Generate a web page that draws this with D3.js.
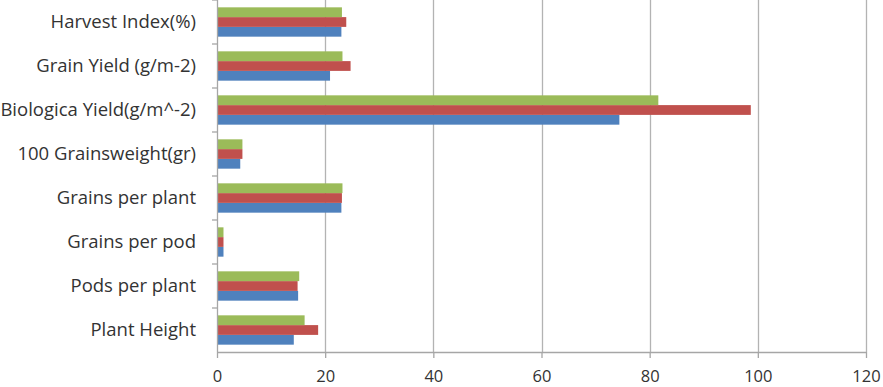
<!DOCTYPE html>
<html>
<head>
<meta charset="utf-8">
<script src="https://cdn.jsdelivr.net/npm/d3@7"></script>
<style>
  body { margin: 0; background: #fff; }
  text { font-family: "Open Sans", sans-serif; fill: #333; }
</style>
</head>
<body>
<svg id="chart"></svg>
<script>
// Data (bottom category first, like the source chart)
const categories = [
  "Plant Height",
  "Pods per plant",
  "Grains per pod",
  "Grains per plant",
  "100 Grainsweight(gr)",
  "Biologica Yield(g/m^-2)",
  "Grain Yield (g/m-2)",
  "Harvest Index(%)"
];
const series1 = [14.2, 15.0, 1.2, 23.0, 4.3, 74.4, 20.9, 23.0];
const series2 = [18.7, 14.9, 1.2, 23.1, 4.7, 98.7, 24.7, 23.9];
const series3 = [16.2, 15.2, 1.2, 23.2, 4.7, 81.6, 23.2, 23.1];
const xTicks = [0, 20, 40, 60, 80, 100, 120];

const seriesList = [
  { key: "s1", values: series1, color: "#4F81BD" },
  { key: "s2", values: series2, color: "#C0504D" },
  { key: "s3", values: series3, color: "#9BBB59" }
];

const W = 883, H = 387;
const margin = { top: 0, right: 17, bottom: 35, left: 217 };
const width = W - margin.left - margin.right;
const height = H - margin.top - margin.bottom;

const svg = d3.select("#chart")
  .attr("width", W)
  .attr("height", H);

const g = svg.append("g")
  .attr("transform", `translate(${margin.left},${margin.top})`);

const x = d3.scaleLinear().domain([0, 120]).range([0, width]);

// first category sits at the bottom
const y = d3.scaleBand()
  .domain(categories)
  .range([height, 0]);

// green on top, blue at the bottom of each group
const yInner = d3.scaleBand()
  .domain(["s3", "s2", "s1"])
  .range([0, y.bandwidth()])
  .paddingOuter(0.75);

// vertical gridlines
g.append("g")
  .selectAll("line")
  .data(xTicks.slice(1))
  .enter()
  .append("line")
  .attr("x1", (d) => Math.round(x(d)) + 0.5)
  .attr("x2", (d) => Math.round(x(d)) + 0.5)
  .attr("y1", 0)
  .attr("y2", height)
  .attr("stroke", "#b3b3b3")
  .attr("stroke-width", 1.3);

// bars
seriesList.forEach((s) => {
  g.append("g")
    .selectAll("rect")
    .data(categories)
    .enter()
    .append("rect")
    .attr("x", 0)
    .attr("y", (d) => y(d) + yInner(s.key))
    .attr("width", (d, i) => x(s.values[i]))
    .attr("height", yInner.bandwidth())
    .attr("fill", s.color);
});

// x axis
const xAxis = g.append("g")
  .attr("transform", `translate(0,${height})`)
  .call(d3.axisBottom(x).tickValues(xTicks).tickSize(6).tickPadding(12).tickSizeOuter(0));
xAxis.select(".domain").attr("stroke", "#a6a6a6").attr("stroke-width", 1.3);
xAxis.selectAll(".tick line").attr("stroke", "#a6a6a6").attr("stroke-width", 1.3);
xAxis.selectAll("text")
  .style("font-family", "'Open Sans', sans-serif")
  .style("font-size", "16.5px")
  .attr("fill", "#333");

// y axis (ticks at category boundaries)
const yAxisG = g.append("g");
yAxisG.append("line")
  .attr("x1", 0.5).attr("x2", 0.5)
  .attr("y1", 0).attr("y2", height)
  .attr("stroke", "#a6a6a6")
  .attr("stroke-width", 1.3);
yAxisG.selectAll(".cat-tick")
  .data(categories)
  .enter()
  .append("line")
  .attr("class", "cat-tick")
  .attr("x1", -5).attr("x2", 0)
  .attr("y1", (d) => y(d))
  .attr("y2", (d) => y(d))
  .attr("stroke", "#a6a6a6")
  .attr("stroke-width", 1.3);

yAxisG.selectAll(".cat-label")
  .data(categories)
  .enter()
  .append("text")
  .attr("class", "cat-label")
  .attr("x", -21)
  .attr("y", (d) => y(d) + y.bandwidth() / 2)
  .attr("dy", "0.35em")
  .attr("text-anchor", "end")
  .style("font-size", "18.5px")
  .text((d) => d);
</script>
</body>
</html>
